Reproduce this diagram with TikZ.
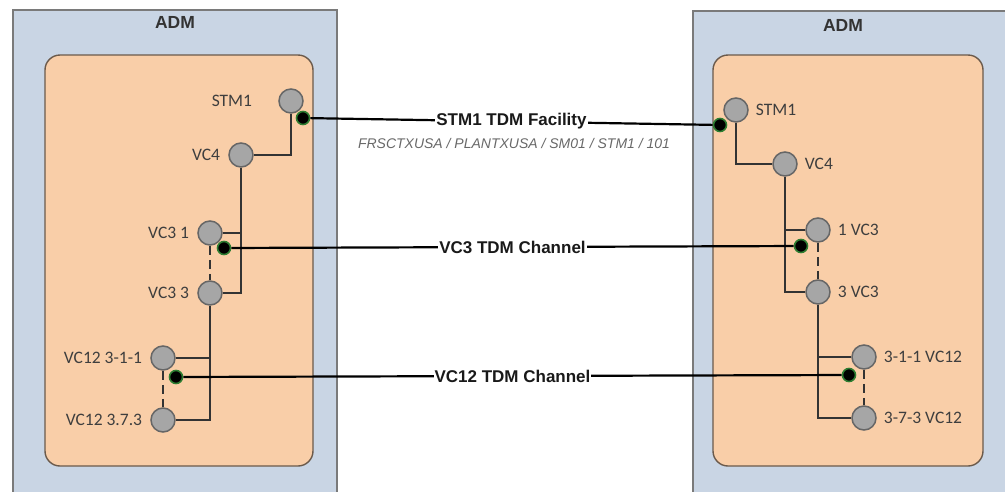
\documentclass[tikz,border=0pt]{standalone}
\usepackage{fontspec}
\setmainfont{Carlito}
\newfontfamily\arialfont{Liberation Sans}
\definecolor{admblue}{HTML}{C9D5E4}
\definecolor{admedge}{HTML}{7A7A7A}
\definecolor{cardfill}{HTML}{F9CEA8}
\definecolor{cardedge}{HTML}{6B5A4B}
\definecolor{portfill}{HTML}{A6A6A6}
\definecolor{portedge}{HTML}{666666}
\definecolor{pinedge}{HTML}{2E7D32}
\definecolor{lblgray}{HTML}{3E3E3E}
\definecolor{subgray}{HTML}{686868}
\begin{document}
\begin{tikzpicture}[
  x=1pt,y=-1pt,
  adm/.style={draw=admedge,line width=2pt,fill=admblue},
  card/.style={draw=cardedge,line width=1.4pt,fill=cardfill,rounded corners=15pt},
  port/.style={circle,draw=portedge,fill=portfill,line width=1.5pt,minimum size=24pt,inner sep=0pt},
  pin/.style={circle,draw=pinedge,fill=black,line width=1.6pt,minimum size=13pt,inner sep=0pt},
  lbl/.style={text=lblgray,font=\fontsize{17.5}{20}\selectfont,inner sep=0pt},
  tree/.style={draw=black!80,line width=1.2pt},
  split/.style={tree,dash pattern=on 9pt off 5pt},
  link/.style={black,line width=2.2pt},
  linkname/.style={fill=white,inner sep=1pt,text=black!90,font=\arialfont\bfseries\fontsize{17}{20}\selectfont},
  sub/.style={text=subgray,font=\arialfont\itshape\fontsize{14}{16}\selectfont},
  title/.style={text=black!80,font=\arialfont\bfseries\fontsize{17.5}{20}\selectfont}
]
  \useasboundingbox (0,0) rectangle (1005,491);
  \clip (0,0) rectangle (1005,491);

  \draw[adm] (13,10) rectangle (337,505);
  \draw[adm] (693,11) rectangle (1020,505);
  \node[title] (admL) at (175,22) {ADM};
  \node[title] (admR) at (843,25) {ADM};
  \draw[card] (45,55) rectangle (313,466);
  \draw[card] (713,55) rectangle (983,466);

  \node[port,label={[lbl,label distance=26pt]left:STM1}] (stmL) at (291,101) {};
  \node[port,label={[lbl,label distance=8pt]left:VC4}] (vcfL) at (241,155) {};
  \node[port,label={[lbl,label distance=8pt]left:VC3 1}] (vc31L) at (210,233) {};
  \node[port,label={[lbl,label distance=8pt]left:VC3 3}] (vc33L) at (210,293) {};
  \node[port,label={[lbl,label distance=8pt]left:VC12 3-1-1}] (vc12aL) at (163,358) {};
  \node[port,label={[lbl,label distance=8pt]left:VC12 3.7.3}] (vc12bL) at (163,420) {};

  \node[port,label={[lbl,label distance=7pt]right:STM1}] (stmR) at (736,110) {};
  \node[port,label={[lbl,label distance=7pt]right:VC4}] (vcfR) at (785,164) {};
  \node[port,label={[lbl,label distance=7pt]right:1 VC3}] (vc31R) at (818,230) {};
  \node[port,label={[lbl,label distance=7pt]right:3 VC3}] (vc33R) at (818,292) {};
  \node[port,label={[lbl,label distance=7pt]right:3-1-1 VC12}] (vc12aR) at (864,357) {};
  \node[port,label={[lbl,label distance=7pt]right:3-7-3 VC12}] (vc12bR) at (864,418) {};

  \draw[tree] (stmL) |- (vcfL);
  \draw[tree] (vcfL) |- (vc33L);
  \draw[tree] (vc31L.east) -- (vc31L.east -| vcfL);
  \draw[tree] (vc33L) |- (vc12bL);
  \draw[tree] (vc12aL.east) -- (vc12aL.east -| vc33L);
  \draw[split] (vc31L) -- (vc33L);
  \draw[split] (vc12aL) -- (vc12bL);

  \draw[tree] (stmR) |- (vcfR);
  \draw[tree] (vcfR) |- (vc33R);
  \draw[tree] (vc31R.west) -- (vc31R.west -| vcfR);
  \draw[tree] (vc33R) |- (vc12bR);
  \draw[tree] (vc12aR.west) -- (vc12aR.west -| vc33R);
  \draw[split] (vc31R) -- (vc33R);
  \draw[split] (vc12aR) -- (vc12bR);

  \node[pin] (pinSL) at (303,118) {};
  \node[pin] (pinVL) at (224,248) {};
  \node[pin] (pinCL) at (176,377) {};
  \node[pin] (pinSR) at (720,125) {};
  \node[pin] (pinVR) at (801,246) {};
  \node[pin] (pinCR) at (849,375) {};

  \draw[link] (pinSL) -- node[linkname] (nmS) {STM1 TDM Facility} (pinSR);
  \node[sub] (subS) at (514,143) {FRSCTXUSA / PLANTXUSA / SM01 / STM1 / 101};
  \draw[link] (pinVL) -- node[linkname] (nmV) {VC3 TDM Channel} (pinVR);
  \draw[link] (pinCL) -- node[linkname] (nmC) {VC12 TDM Channel} (pinCR);
\end{tikzpicture}
\end{document}
